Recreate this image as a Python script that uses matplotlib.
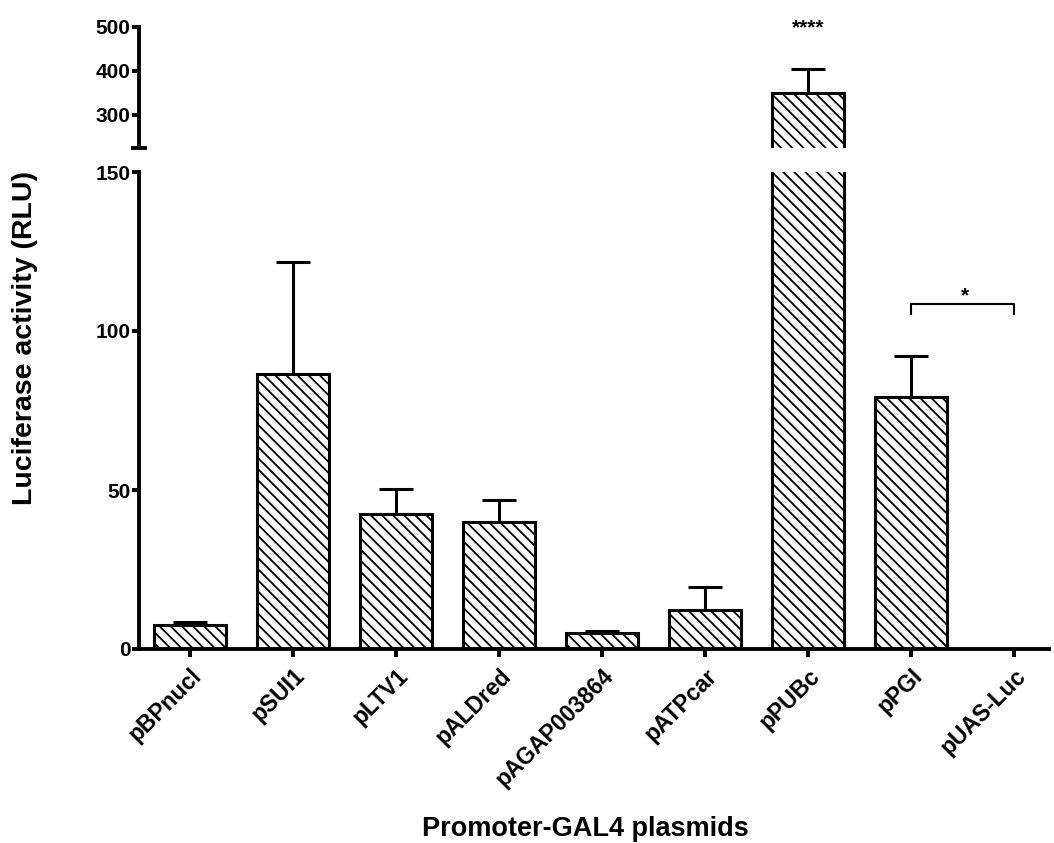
import matplotlib.pyplot as plt
import numpy as np

plt.rcParams['font.family'] = ['Liberation Sans', 'DejaVu Sans']
plt.rcParams['hatch.linewidth'] = 1.3

# data
plasmids = ['pBPnucl', 'pSUI1', 'pLTV1', 'pALDred', 'pAGAP003864',
            'pATPcar', 'pPUBc', 'pPGI', 'pUAS-Luc']
activity = [7.6, 86.4, 42.3, 40.0, 5.0, 12.3, 350.0, 79.4, 0.0]
err_up = [0.9, 35.4, 7.9, 6.7, 0.7, 7.2, 55.0, 12.6, 0.0]

low_ticks = [0, 50, 100, 150]
high_ticks = [300, 400, 500]

x = np.arange(len(plasmids))

fig = plt.figure(figsize=(10.54, 8.43), dpi=100)
left, width = 139 / 1054, 910 / 1054
ax_lo = fig.add_axes([left, 194 / 843, width, 477 / 843])
ax_hi = fig.add_axes([left, 695 / 843, width, 121 / 843])

for ax in (ax_lo, ax_hi):
    ax.bar(x, activity, width=0.69, color='white', edgecolor='black',
           linewidth=2.2, hatch='\\\\\\', zorder=2)
    ax.errorbar(x, activity, yerr=[np.zeros(len(x)), err_up], fmt='none',
                ecolor='black', elinewidth=2.2, capsize=12, capthick=2.2,
                zorder=1)
    ax.set_xlim(-0.495, 8.34)
    for s in ['top', 'right']:
        ax.spines[s].set_visible(False)
    ax.spines['left'].set_linewidth(2.8)
    ax.tick_params(axis='y', length=5, width=2.8, labelsize=15, pad=1)

ax_lo.set_ylim(0, 150)
ax_lo.set_yticks(low_ticks)
ax_lo.spines['bottom'].set_linewidth(2.8)
ax_lo.set_xticks(x)
ax_lo.set_xticklabels(plasmids, rotation=45, ha='right', rotation_mode='anchor',
                      fontsize=16.5, fontweight='bold')
ax_lo.tick_params(axis='x', length=6, width=2.8, pad=5)
for lab in ax_lo.get_yticklabels():
    lab.set_fontweight('bold')

ax_hi.set_ylim(225, 500)
ax_hi.set_yticks(high_ticks)
ax_hi.spines['bottom'].set_visible(False)
ax_hi.set_xticks([])
for lab in ax_hi.get_yticklabels():
    lab.set_fontweight('bold')
# small cross mark at the break of the upper axis
ax_hi.plot([-0.009, 0.009], [0, 0], transform=ax_hi.transAxes,
           color='black', lw=2.8, clip_on=False, solid_capstyle='butt')

# significance marks
ax_hi.text(6, 486, '****', ha='center', va='baseline', fontsize=15,
           fontweight='bold', clip_on=False)
ax_lo.plot([7, 7, 8, 8], [105.3, 108.6, 108.6, 105.3], color='black', lw=1.5)
ax_lo.text(7.52, 109.3, '*', ha='center', va='baseline', fontsize=15,
           fontweight='bold')

fig.text(25 / 1054, 1 - 338 / 843, 'Luciferase activity (RLU)', rotation=90,
         ha='center', va='center', fontsize=20.5, fontweight='bold')
fig.text(585 / 1054, 1 - 829 / 843, 'Promoter-GAL4 plasmids', ha='center',
         va='center', fontsize=19.5, fontweight='bold')

fig.savefig('out.png', dpi=100)
